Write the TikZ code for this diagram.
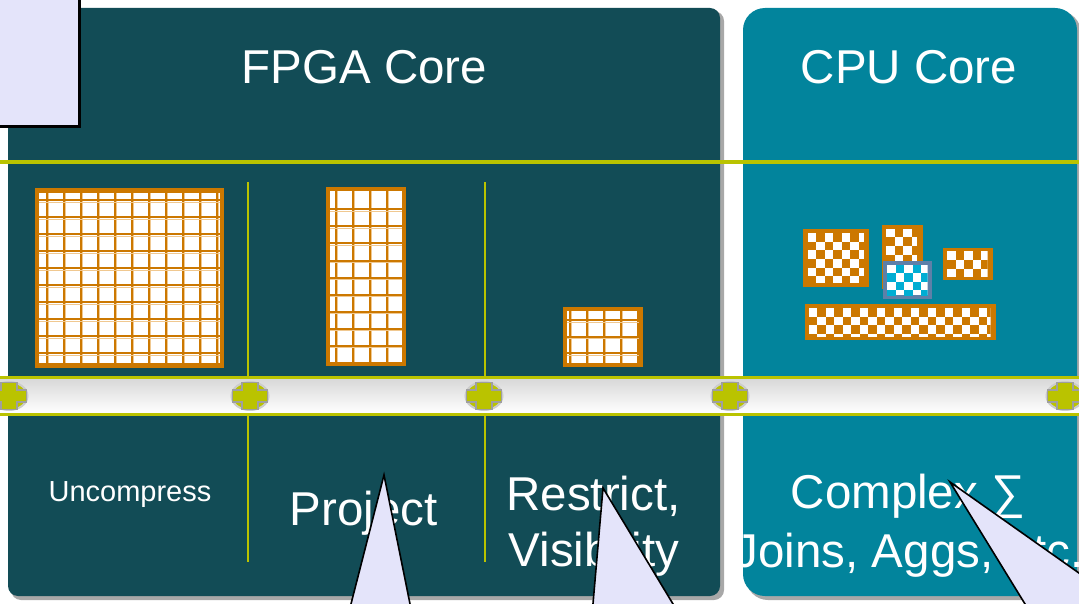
\documentclass[tikz,border=0pt]{standalone}
\usepackage{fontspec}
\setmainfont{Liberation Sans}
\usetikzlibrary{shapes.geometric}
\definecolor{fpga}{HTML}{124C56}
\definecolor{cpu}{HTML}{02849C}
\definecolor{ygl}{RGB}{186,195,0}
\definecolor{orng}{HTML}{CC7800}
\definecolor{lor}{HTML}{F0C890}
\definecolor{lav}{HTML}{E4E4FA}
\definecolor{steel}{HTML}{5E80A8}
\definecolor{cyanbox}{HTML}{00ADD3}
\definecolor{shadowgray}{HTML}{A8A8A8}
\newcommand{\wgrid}[6]{%
  \fill[white] (#1,#2) rectangle (#3,#4);
  \begin{scope}
    \clip (#1,#2) rectangle (#3,#4);
    \foreach \gx in {#5} {\draw[lor, line width=1.1] (\gx+2.1,#2) -- (\gx+2.1,#4);
                          \draw[orng, line width=2] (\gx,#2) -- (\gx,#4);}
    \foreach \gy in {#6} {\draw[lor, line width=1.1] (#1,\gy+2.1) -- (#3,\gy+2.1);
                          \draw[orng, line width=2] (#1,\gy) -- (#3,\gy);}
  \end{scope}
  \draw[orng, line width=4.5] (#1,#2) rectangle (#3,#4);}
\newcommand{\checkers}[5]{%
  \begin{scope}
    \clip (#1,#2) rectangle (#3,#4);
    \fill[white] (#1,#2) rectangle (#3,#4);
    \foreach \ci in {0,...,22}{\foreach \cj in {0,...,6}{%
      \pgfmathtruncatemacro\pp{mod(\ci+\cj,2)}%
      \ifnum\pp=1 \fill[#5] ({#1+\ci*8.5},{#2+\cj*8.5}) rectangle +(8.5,8.5);\fi}}
  \end{scope}}
\tikzset{
  title/.style={text=white, inner sep=0pt, anchor=base, font=\fontsize{47.5}{57}\selectfont},
  small/.style={text=white, inner sep=0pt, anchor=base, font=\fontsize{29}{34}\selectfont},
  divider/.style={ygl, line width=2},
  busline/.style={ygl, line width=3.8},
  pointer/.style={draw=black, fill=lav, line width=1.6, line join=miter},
  busplug/.pic={
    \fill[ygl, draw=gray!40, line width=2] (0,0) ellipse [x radius=18.5, y radius=14];
    \draw[fill=ygl, draw=gray!75, line width=1.6]
      (-8,-13.5) -- (8,-13.5) -- (8,-6) -- (17.5,-6) -- (17.5,6) -- (8,6) -- (8,13.5)
      -- (-8,13.5) -- (-8,6) -- (-17.5,6) -- (-17.5,-6) -- (-8,-6) -- cycle;
  }
}
\begin{document}
\begin{tikzpicture}[x=1pt,y=-1pt]
\useasboundingbox (0,0) rectangle (1079,604);
\clip (0,0) rectangle (1079,604);
\fill[white] (0,0) rectangle (1079,604);
% panels
\fill[shadowgray, rounded corners=10] (11,11) rectangle (724,600);
\fill[fpga, rounded corners=10] (8,8) rectangle (720,596);
\fill[shadowgray, rounded corners=22] (746,11) rectangle (1081,600);
\fill[cpu, rounded corners=22] (743,8) rectangle (1077,596);
% top line
\draw[ygl, line width=3.5] (0,162) -- (1079,162);
% dividers
\draw[divider] (248,182) -- (248,378);
\draw[divider] (248,414) -- (248,562);
\draw[divider] (485,182) -- (485,378);
\draw[divider] (485,414) -- (485,562);
% grids
\wgrid{37.2}{190.5}{221.8}{365.5}{46.5,63.5,...,216.5}{200,217,...,353}
\wgrid{328.2}{189.2}{403.8}{363.8}{335.5,352.5,...,386.5}{209.5,226.5,...,345.5}
\wgrid{565.2}{309.2}{640.8}{364.8}{569.5,586.5,...,637.5}{320,336.7,353.4}
% checker boxes
\fill[orng] (803,229) rectangle (869,287);
\checkers{807.5}{233.5}{864}{283}{orng}
\fill[orng] (882,225) rectangle (923,289);
\checkers{886}{229}{917}{285}{orng}
\fill[steel] (883,261) rectangle (932,299);
\checkers{887}{264.5}{927.5}{295}{cyanbox}
\fill[orng] (943,248) rectangle (993,280);
\checkers{947}{251.5}{987.5}{277}{orng}
\fill[orng] (805,304) rectangle (996,340);
\checkers{808.5}{308}{990.5}{337}{orng}
% bus
\shade[top color=black!15, bottom color=white] (0,379) rectangle (1079,413);
\draw[busline] (0,377.5) -- (1079,377.5);
\draw[busline] (0,414.5) -- (1079,414.5);
\pic at (9,396) {busplug};
\pic at (250,396) {busplug};
\pic at (484,396) {busplug};
\pic at (730,396) {busplug};
\pic at (1065,396) {busplug};
% texts
\node[title] (fpgat) at (364.5,83.5) {FPGA Core};
\node[title] (cput) at (909,84) {CPU Core};
\node[small] (unc) at (130,501) {Uncompress};
\node[title] (proj) at (363.5,525) {Project};
\node[title] (restr) at (593.5,510) {Restrict,};
\node[title] (visi) at (594,566.5) {Visibility};
\node[title] (cplx) at (908,508) {Complex ∑};
\node[title] (joins) at (909,567) {Joins, Aggs, etc.};
% callouts
\fill[black] (-5,-5) rectangle (81,128.5);
\fill[lav] (-5,-5) rectangle (77.5,125);
\draw[pointer] (384,475) -- (339.2,650) -- (419.3,650) -- cycle;
\draw[pointer] (603,488) -- (589,650) -- (700.8,650) -- cycle;
\draw[pointer] (950,482) -- (1053.3,650) -- (1188,650) -- cycle;
\end{tikzpicture}
\end{document}
